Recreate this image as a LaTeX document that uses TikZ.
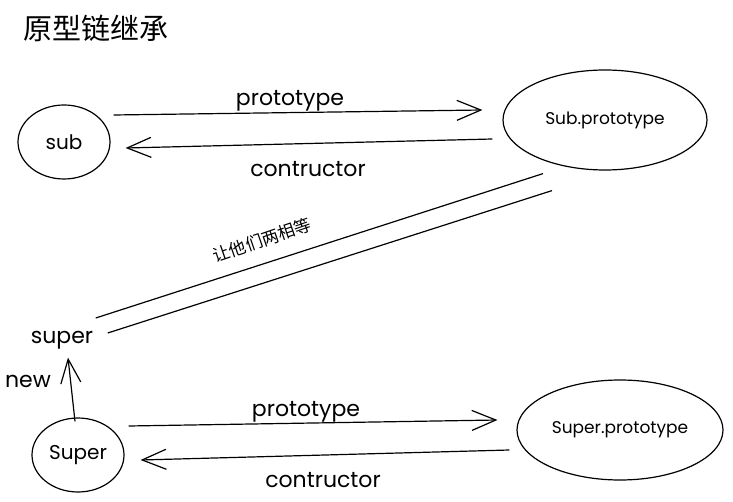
\documentclass[tikz,border=0pt]{standalone}
\usepackage{fontspec}
\setmainfont{Poppins}
\newfontfamily\cjk{Noto Sans CJK SC}
\usetikzlibrary{arrows.meta,shapes.geometric,calc}
\begin{document}
\begin{tikzpicture}[x=1pt,y=-1pt,line width=1.2pt,
  arr/.style={-{Straight Barb[length=24pt,width=20pt,line width=1.2pt]}},
  circ/.style={draw,ellipse,inner sep=0pt,minimum width=92pt,minimum height=74pt,font=\fontsize{20}{23}\selectfont},
  ell/.style={draw,ellipse,inner sep=0pt,minimum width=204pt,minimum height=100pt,font=\fontsize{17}{20}\selectfont},
  lbl/.style={font=\fontsize{22}{25}\selectfont,inner sep=0pt}]
\useasboundingbox (0,0) rectangle (733,502);
\node[font=\cjk\fontsize{29}{32}\selectfont,inner sep=0pt] (title) at (96,28) {原型链继承};
\node[circ] (sub) at (64,142) {sub};
\node[ell] (subp) at (605,120) {Sub.prototype};
\node[circ] (Super) at (78,455) {Super};
\node[ell,minimum width=206pt] (superp) at (620,430) {Super.prototype};
\node[lbl] (super) at (62,340) {super};
% top arrows
\draw[arr] ($(sub.east)+(3,-27)$) -- ($(subp.west)+(-20,-10)$);
\draw[arr] ($(subp.west)+(-10,19)$) -- ($(sub.east)+(15,6)$);
\node[lbl] (p1) at (290,101) {prototype};
\node[lbl] (c1) at (308,169) {contructor};
% bottom arrows
\draw[arr] ($(Super.east)+(4,-29)$) -- ($(superp.west)+(-19,-10)$);
\draw[arr] ($(superp.west)+(-7,20)$) -- ($(Super.east)+(16,5)$);
\node[lbl] (p2) at (306,412) {prototype};
\node[lbl] (c2) at (323,480) {contructor};
% new
\draw[arr] ($(Super.north)+(-3,4)$) -- ($(super.south)+(6,8)$);
\node[lbl] (new) at (28,381) {new};
% equal lines
\draw ($(subp.south)+(-62,3)$) -- ($(super.east)+(2,-22)$);
\draw ($(subp.south)+(-53,20)$) -- ($(super.east)+(14,-7)$);
\node[font=\cjk\fontsize{17}{19}\selectfont,rotate=19,inner sep=0pt] (eq) at (262,240) {让他们两相等};
\end{tikzpicture}
\end{document}
